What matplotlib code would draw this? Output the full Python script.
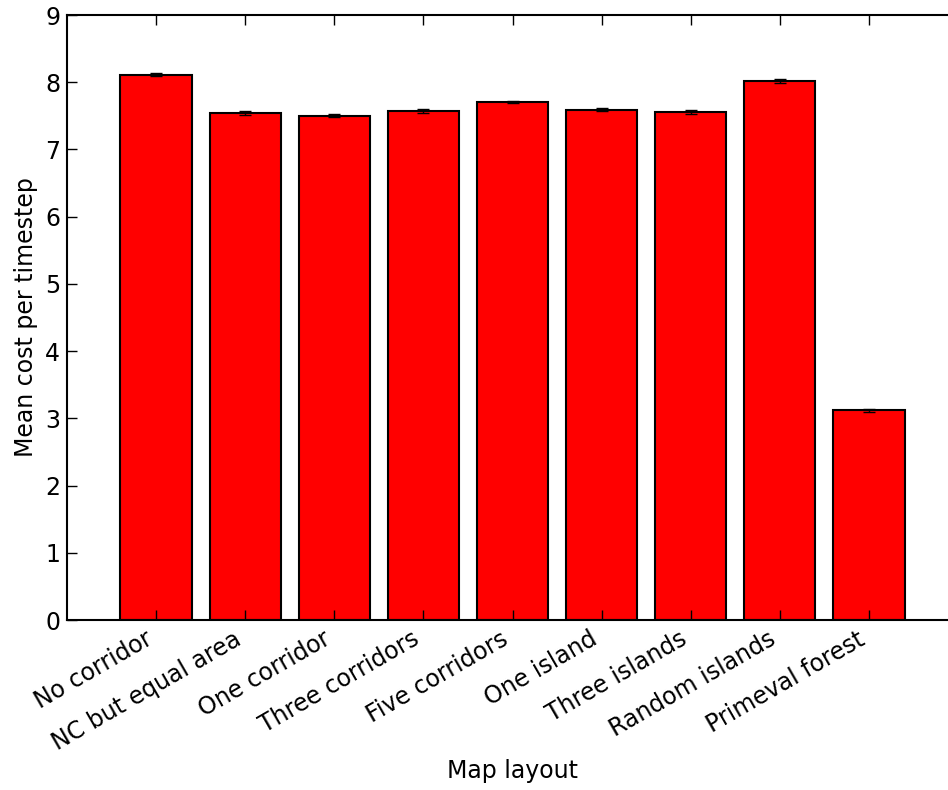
import matplotlib
matplotlib.use("Agg")
from matplotlib import pyplot as plt
import numpy as np

layouts = ["No corridor", "NC but equal area", "One corridor", "Three corridors",
           "Five corridors", "One island", "Three islands", "Random islands",
           "Primeval forest"]
mean_cost = [8.11, 7.54, 7.50, 7.57, 7.71, 7.59, 7.56, 8.02, 3.12]
cost_err = [0.02, 0.025, 0.02, 0.025, 0.015, 0.025, 0.03, 0.03, 0.02]

plt.rcParams['font.family'] = 'DejaVu Sans'
fig = plt.figure(figsize=(9.48, 7.9), dpi=100)
ax = fig.add_axes([67 / 948, 170 / 790, 891 / 948, 605 / 790])

x = np.arange(len(layouts))
ax.bar(x, mean_cost, width=0.8, color='red', edgecolor='black', linewidth=1.5,
       yerr=cost_err, error_kw=dict(ecolor='black', capsize=4, elinewidth=1, capthick=1))

ax.set_xlim(-1, 9)
ax.set_ylim(0, 9)
ax.set_xticks(x)
ax.set_xticklabels(layouts, rotation=30, ha='right', fontsize=17)
ax.tick_params(axis='y', labelsize=17)
ax.tick_params(direction='in', length=7, width=1, top=True, right=True, pad=5)
for s in ax.spines.values():
    s.set_linewidth(1.5)

ax.set_xlabel('Map layout', fontsize=17, labelpad=3)
ax.set_ylabel('Mean cost per timestep', fontsize=17, labelpad=5)

fig.savefig('out.png', dpi=100)
